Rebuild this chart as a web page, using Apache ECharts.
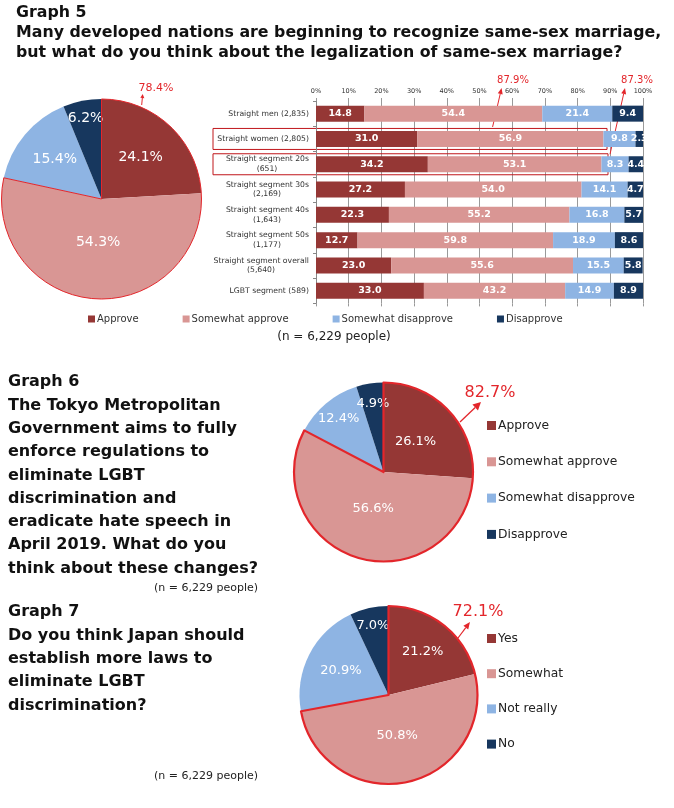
<!DOCTYPE html>
<html>
<head>
<meta charset="utf-8">
<script src="https://cdn.jsdelivr.net/npm/echarts@6/dist/echarts.min.js"></script>
<style>
html,body{margin:0;padding:0;background:#fff;}
#main{width:674px;height:808px;}
</style>
</head>
<body>
<div id="main"></div>
<script>
// ---------------- DATA ----------------
const categories = [
  'Straight men (2,835)',
  'Straight women (2,805)',
  'Straight segment 20s\n(651)',
  'Straight segment 30s\n(2,169)',
  'Straight segment 40s\n(1,643)',
  'Straight segment 50s\n(1,177)',
  'Straight segment overall\n(5,640)',
  'LGBT segment (589)'
];
const seriesNames = ['Approve', 'Somewhat approve', 'Somewhat disapprove', 'Disapprove'];
const approve            = [14.8, 31.0, 34.2, 27.2, 22.3, 12.7, 23.0, 33.0];
const somewhatApprove    = [54.4, 56.9, 53.1, 54.0, 55.2, 59.8, 55.6, 43.2];
const somewhatDisapprove = [21.4,  9.8,  8.3, 14.1, 16.8, 18.9, 15.5, 14.9];
const disapprove         = [ 9.4,  2.3,  4.4,  4.7,  5.7,  8.6,  5.8,  8.9];
const xTicks = [0, 10, 20, 30, 40, 50, 60, 70, 80, 90, 100];

const graph5Pie = [24.1, 54.3, 15.4, 6.2];
const graph6Pie = [26.1, 56.6, 12.4, 4.9];
const graph7Names = ['Yes', 'Somewhat', 'Not really', 'No'];
const graph7Pie = [21.2, 50.8, 20.9, 7.0];

const graph5PieTotal = '78.4%';
const graph6PieTotal = '82.7%';
const graph7PieTotal = '72.1%';
const barTotals = ['87.9%', '87.3%'];
const sampleNote = '(n = 6,229 people)';

const title5 = 'Graph 5\nMany developed nations are beginning to recognize same-sex marriage,\nbut what do you think about the legalization of same-sex marriage?';
const title6 = 'Graph 6\nThe Tokyo Metropolitan\nGovernment aims to fully\nenforce regulations to\neliminate LGBT\ndiscrimination and\neradicate hate speech in\nApril 2019. What do you\nthink about these changes?';
const title7 = 'Graph 7\nDo you think Japan should\nestablish more laws to\neliminate LGBT\ndiscrimination?';

// ---------------- STYLE ----------------
const FONT = 'DejaVu Sans';
const colors = ['#953735', '#D99694', '#8EB4E3', '#17375E'];
const RED = '#E3262B';
const YFONT = 7.7;

const chart = echarts.init(document.getElementById('main'), null, {renderer: 'canvas'});

// measure y label first lines for centered second lines
const cvs = document.createElement('canvas');
const ctx = cvs.getContext('2d');
ctx.font = YFONT + 'px "' + FONT + '"';
const rich = { a: {fontSize: YFONT, fontFamily: FONT, color: '#333', lineHeight: 9.5} };
categories.forEach(function (c, i) {
  const parts = c.split('\n');
  if (parts.length > 1) {
    rich['w' + i] = {fontSize: YFONT, fontFamily: FONT, color: '#333', lineHeight: 9.5,
      width: Math.ceil(ctx.measureText(parts[0]).width), align: 'center'};
  }
});

function pieLabelLayout(cx, cy, r, values, ratios) {
  const total = values.reduce((s, v) => s + v, 0);
  return function (p) {
    const i = p.dataIndex;
    let cum = 0;
    for (let k = 0; k < i; k++) cum += values[k];
    const ang = (cum + values[i] / 2) / total * Math.PI * 2;
    const d = ratios[i] * r;
    return {x: cx + d * Math.sin(ang), y: cy - d * Math.cos(ang), align: 'center', verticalAlign: 'middle'};
  };
}

function pieSeries(names, values, cx, cy, r, fontSize, ratios) {
  return {
    type: 'pie', center: [cx, cy], radius: r, startAngle: 90, clockwise: true,
    silent: true, animation: false,
    data: values.map((v, i) => ({name: names[i], value: v, itemStyle: {color: colors[i]}})),
    itemStyle: {borderWidth: 0},
    label: {show: true, position: 'inside', color: '#fff', fontSize: fontSize, fontFamily: FONT,
      formatter: p => p.value.toFixed(1) + '%'},
    labelLine: {show: false},
    labelLayout: pieLabelLayout(cx, cy, r, values, ratios),
    emphasis: {disabled: true}
  };
}

function outlineSeries(values, cx, cy, r, width) {
  const pos = values[0] + values[1];
  const rest = values[2] + values[3];
  return {
    type: 'pie', center: [cx, cy], radius: r, startAngle: 90, clockwise: true,
    silent: true, animation: false, z: 5,
    data: [
      {name: '_pos', value: pos, itemStyle: {color: 'rgba(0,0,0,0)', borderColor: RED, borderWidth: width}},
      {name: '_neg', value: rest, itemStyle: {color: 'rgba(0,0,0,0)', borderWidth: 0}}
    ],
    label: {show: false}, labelLine: {show: false}, emphasis: {disabled: true}
  };
}

function arrow(x1, y1, x2, y2, lw, hw, hl, color) {
  const ang = Math.atan2(y2 - y1, x2 - x1);
  const bx = x2 - hl * Math.cos(ang), by = y2 - hl * Math.sin(ang);
  const px = -Math.sin(ang) * hw / 2, py = Math.cos(ang) * hw / 2;
  return [
    {type: 'line', silent: true, shape: {x1: x1, y1: y1, x2: bx, y2: by}, style: {stroke: color, lineWidth: lw}},
    {type: 'polygon', silent: true, shape: {points: [[x2, y2], [bx + px, by + py], [bx - px, by - py]]}, style: {fill: color}}
  ];
}

const barData = [approve, somewhatApprove, somewhatDisapprove, disapprove];

const option = {
  backgroundColor: '#fff',
  animation: false,
  textStyle: {fontFamily: FONT},
  title: [
    {text: title5, left: 16, top: 3, padding: 0,
      textStyle: {fontFamily: FONT, fontSize: 15.8, fontWeight: 'bold', color: '#111', lineHeight: 20}},
    {text: title6, left: 8, top: 370.5, padding: 0,
      textStyle: {fontFamily: FONT, fontSize: 16, fontWeight: 'bold', color: '#111', lineHeight: 23.3}},
    {text: title7, left: 8, top: 600.5, padding: 0,
      textStyle: {fontFamily: FONT, fontSize: 16, fontWeight: 'bold', color: '#111', lineHeight: 23.3}}
  ],
  legend: [
    {data: seriesNames, left: 88, top: 314, itemWidth: 7, itemHeight: 7, itemGap: 44, icon: 'rect',
      selectedMode: false, padding: 0,
      textStyle: {fontFamily: FONT, fontSize: 10, color: '#333', padding: [0, 0, 0, -3]}},
    {data: seriesNames, orient: 'vertical', left: 487, top: 419.5, itemWidth: 9, itemHeight: 9, itemGap: 24.3,
      icon: 'rect', selectedMode: false, padding: 0,
      textStyle: {fontFamily: FONT, fontSize: 12.3, color: '#222', padding: [0, 0, 0, -3]}},
    {data: graph7Names, orient: 'vertical', left: 487, top: 632.5, itemWidth: 9, itemHeight: 9, itemGap: 23.2,
      icon: 'rect', selectedMode: false, padding: 0,
      textStyle: {fontFamily: FONT, fontSize: 12.3, color: '#222', padding: [0, 0, 0, -3]}}
  ],
  grid: {left: 316, top: 101, width: 327, height: 202.4, containLabel: false},
  xAxis: [
    {type: 'value', position: 'top', min: xTicks[0], max: xTicks[xTicks.length - 1], interval: 10,
      axisLine: {show: false}, axisTick: {show: true, length: 3, lineStyle: {color: '#999'}},
      axisLabel: {formatter: '{value}%', fontSize: 6.5, color: '#333', fontFamily: FONT, margin: 6},
      splitLine: {show: true, lineStyle: {color: '#9a9a9a', width: 1}}},
    {type: 'value', position: 'bottom', min: xTicks[0], max: xTicks[xTicks.length - 1], interval: 10,
      axisLine: {show: false}, axisTick: {show: true, length: 3, lineStyle: {color: '#999'}},
      axisLabel: {show: false}, splitLine: {show: false}}
  ],
  yAxis: {
    type: 'category', data: categories, inverse: true,
    axisLine: {show: true, lineStyle: {color: '#888'}},
    axisTick: {show: true, length: 3, lineStyle: {color: '#888'}},
    axisLabel: {margin: 7, fontSize: YFONT, color: '#333', fontFamily: FONT, lineHeight: 9.5,
      formatter: function (v, i) {
        const parts = v.split('\n');
        if (parts.length === 1) return '{a|' + v + '}';
        return '{a|' + parts[0] + '}\n{w' + i + '|' + parts[1] + '}';
      },
      rich: rich}
  },
  series: seriesNames.map((n, k) => ({
    name: n, type: 'bar', stack: 'total', barWidth: 16, xAxisIndex: 0,
    itemStyle: {color: colors[k]},
    label: {show: true, position: 'inside', color: '#fff', fontSize: 9.5, fontWeight: 'bold', fontFamily: FONT,
      formatter: p => p.value.toFixed(1)},
    emphasis: {disabled: true},
    data: barData[k]
  })).concat([
    pieSeries(seriesNames, graph5Pie, 101.5, 199, 100, 14, [0.57, 0.43, 0.61, 0.82]),
    outlineSeries(graph5Pie, 101.5, 199, 100, 1),
    pieSeries(seriesNames, graph6Pie, 383.5, 472, 89.5, 13, [0.49, 0.42, 0.78, 0.77]),
    outlineSeries(graph6Pie, 383.5, 472, 89.5, 2.2),
    pieSeries(graph7Names, graph7Pie, 388.5, 695, 89, 13, [0.62, 0.47, 0.6, 0.8]),
    outlineSeries(graph7Pie, 388.5, 695, 89, 2.2)
  ])
};

chart.setOption(option);

// annotations computed from the chart's own scales
const p1 = chart.convertToPixel({xAxisIndex: 0, yAxisIndex: 0}, [89, 1]);
const p2 = chart.convertToPixel({xAxisIndex: 0, yAxisIndex: 0}, [89.3, 2]);
const g = [];
g.push({type: 'rect', silent: true, shape: {x: 213, y: p1[1] - 10.5, width: p1[0] - 213, height: 21},
  style: {fill: 'none', stroke: '#C0161B', lineWidth: 1}});
g.push({type: 'rect', silent: true, shape: {x: 213, y: p2[1] - 10.5, width: p2[0] - 213, height: 21},
  style: {fill: 'none', stroke: '#C0161B', lineWidth: 1}});
const a1 = chart.convertToPixel({xAxisIndex: 0, yAxisIndex: 0}, [54, 1]);
g.push.apply(g, arrow(a1[0], p1[1] - 12, a1[0] + 9, 88, 1, 5, 6, RED));
g.push({type: 'text', silent: true, style: {text: barTotals[0], x: 513, y: 80, align: 'center', verticalAlign: 'middle',
  font: '10px "' + FONT + '"', fill: RED}});
g.push.apply(g, arrow(p2[0] + 2, p2[1] - 10, 625, 88, 1, 5, 6, RED));
g.push({type: 'text', silent: true, style: {text: barTotals[1], x: 637, y: 80, align: 'center', verticalAlign: 'middle',
  font: '10px "' + FONT + '"', fill: RED}});

// pie totals
g.push.apply(g, arrow(141.7, 105, 142.7, 94, 1, 4, 4, RED));
g.push({type: 'text', silent: true, style: {text: graph5PieTotal, x: 156, y: 88, align: 'center', verticalAlign: 'middle',
  font: '11px "' + FONT + '"', fill: RED}});
g.push.apply(g, arrow(460, 422, 481, 402, 1.3, 8, 8, RED));
g.push({type: 'text', silent: true, style: {text: graph6PieTotal, x: 490, y: 393, align: 'center', verticalAlign: 'middle',
  font: '16px "' + FONT + '"', fill: RED}});
g.push.apply(g, arrow(458, 638, 470, 622, 1.2, 6, 7, RED));
g.push({type: 'text', silent: true, style: {text: graph7PieTotal, x: 478, y: 612, align: 'center', verticalAlign: 'middle',
  font: '16px "' + FONT + '"', fill: RED}});

// sample notes
g.push({type: 'text', silent: true, style: {text: sampleNote, x: 334, y: 337, align: 'center', verticalAlign: 'middle',
  font: '12px "' + FONT + '"', fill: '#222'}});
g.push({type: 'text', silent: true, style: {text: sampleNote, x: 258, y: 588, align: 'right', verticalAlign: 'middle',
  font: '11px "' + FONT + '"', fill: '#222'}});
g.push({type: 'text', silent: true, style: {text: sampleNote, x: 258, y: 776, align: 'right', verticalAlign: 'middle',
  font: '11px "' + FONT + '"', fill: '#222'}});

chart.setOption({graphic: g});
</script>
</body>
</html>
